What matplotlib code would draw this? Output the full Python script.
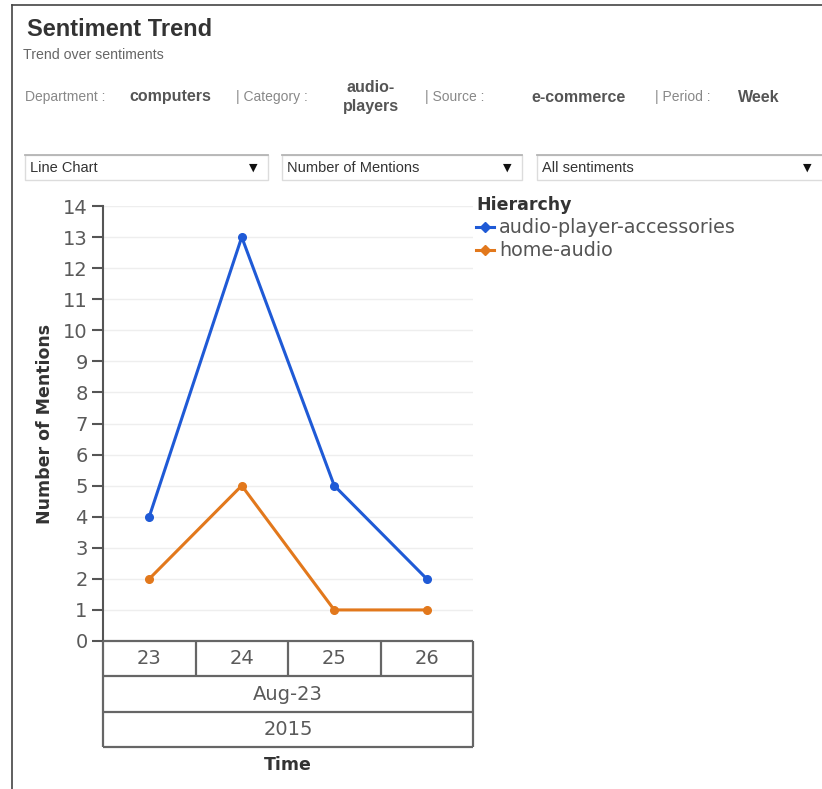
import matplotlib
matplotlib.use("Agg")
import matplotlib.pyplot as plt
from matplotlib.lines import Line2D
from matplotlib.patches import Rectangle

# ---- data ----
weeks = ["23", "24", "25", "26"]
month_label = "Aug-23"
year_label = "2015"
series_names = ["audio-player-accessories", "home-audio"]
accessories = [4, 13, 5, 2]
home_audio = [2, 5, 1, 1]
series_colors = ["#1f5ad6", "#e2781c"]
y_ticks = list(range(0, 15))

filters = [("Department :", "computers"), ("| Category :", "audio-\nplayers"),
           ("| Source :", "e-commerce"), ("| Period :", "Week")]
dropdowns = ["Line Chart", "Number of Mentions", "All sentiments"]

W, H = 822, 789
fig = plt.figure(figsize=(W / 100, H / 100), dpi=100)
fig.patch.set_facecolor("white")


def fx(px):
    return px / W


def fy(py):
    return 1 - py / H


SANS = ["Liberation Sans", "DejaVu Sans"]

# outer panel border
fig.add_artist(Line2D([fx(12), fx(12)], [fy(5), fy(789)], color="#444444", lw=1.2))
fig.add_artist(Line2D([fx(12), fx(822)], [fy(5), fy(5)], color="#444444", lw=1.2))

# header
fig.text(fx(27), fy(30), "Sentiment Trend", family=SANS, weight="bold",
         fontsize=17, color="#333333", va="center", ha="left")
fig.text(fx(23), fy(55), "Trend over sentiments", family=SANS,
         fontsize=10.2, color="#666666", va="center", ha="left")

label_x = [25, 236, 425, 655]
value_x = [129, 371, 531, 738]
for (lab, val), lx, vx in zip(filters, label_x, value_x):
    fig.text(fx(lx), fy(97), lab, family=SANS, fontsize=10, color="#888888",
             va="center", ha="left")
    ha = "center" if "\n" in val else "left"
    fig.text(fx(vx), fy(97), val, family=SANS, fontsize=11.5, weight="bold",
             color="#555555", va="center", ha=ha, linespacing=1.25)

# dropdown selectors
box_spans = [(25, 268), (282, 522), (537, 830)]
for text, (x0, x1) in zip(dropdowns, box_spans):
    fig.add_artist(Rectangle((fx(x0), fy(180)), fx(x1) - fx(x0), fy(155) - fy(180),
                             facecolor="white", edgecolor="#dcdcdc", lw=1))
    fig.add_artist(Line2D([fx(x0), fx(x1)], [fy(155), fy(155)], color="#b5b5b5", lw=1.3))
    fig.text(fx(x0 + 5), fy(167.5), text, family=SANS, fontsize=10.5,
             color="#333333", va="center", ha="left")
    fig.text(fx(min(x1, 822) - 15), fy(168), "\u25bc", family="DejaVu Sans",
             fontsize=8, color="#111111", va="center", ha="center")

# main plot
ax = fig.add_axes([fx(103), fy(641), fx(473) - fx(103), fy(206) - fy(641)])
x = list(range(len(weeks)))
lines = []
for vals, name, col in zip([accessories, home_audio], series_names, series_colors):
    ln, = ax.plot(x, vals, color=col, lw=2.2, marker="o", markersize=5.5,
                  label=name, clip_on=False, zorder=3)
    lines.append(ln)

ax.set_xlim(-0.5, len(weeks) - 0.5)
ax.set_ylim(0, 14)
ax.set_yticks(y_ticks)
ax.set_yticklabels([str(t) for t in y_ticks])
ax.set_xticks([])
ax.yaxis.grid(True, color="#eeeeee", lw=1)
ax.set_axisbelow(True)
for s in ["top", "right", "bottom"]:
    ax.spines[s].set_visible(False)
ax.spines["left"].set_color("#555555")
ax.spines["left"].set_linewidth(1.5)
ax.tick_params(axis="y", length=8, width=1.5, color="#555555", pad=3,
               labelsize=14, labelcolor="#5a5a5a")
for lab in ax.get_yticklabels():
    lab.set_family("DejaVu Sans")

fig.text(fx(45), fy(424), "Number of Mentions", family="DejaVu Sans",
         weight="bold", fontsize=12.5, color="#333333", rotation=90,
         va="center", ha="center")

# category table under the plot
tx = fig.add_axes([fx(103), fy(747), fx(473) - fx(103), fy(641) - fy(747)])
tx.set_xlim(-0.5, len(weeks) - 0.5)
tx.set_ylim(3, 0)
tx.axis("off")
tcol = "#666666"
tx.hlines([0, 1, 2, 3], -0.5, len(weeks) - 0.5, color=tcol, lw=1.6, clip_on=False)
tx.vlines([-0.5, len(weeks) - 0.5], 0, 3, color=tcol, lw=1.6, clip_on=False)
tx.vlines([i + 0.5 for i in range(len(weeks) - 1)], 0, 1, color=tcol, lw=1.6,
          clip_on=False)
for i, w in enumerate(weeks):
    tx.text(i, 0.5, w, ha="center", va="center", fontsize=14,
            color="#5a5a5a", family="DejaVu Sans")
mid = (len(weeks) - 1) / 2
tx.text(mid, 1.5, month_label, ha="center", va="center", fontsize=14,
        color="#5a5a5a", family="DejaVu Sans")
tx.text(mid, 2.5, year_label, ha="center", va="center", fontsize=14,
        color="#5a5a5a", family="DejaVu Sans")

fig.text(fx(288), fy(765), "Time", family="DejaVu Sans", weight="bold",
         fontsize=12.5, color="#333333", va="center", ha="center")

# legend
handles = [Line2D([0], [0], color=c, lw=2.2, marker="D", markersize=5.5)
           for c in series_colors]
leg = fig.legend(handles, series_names, loc="upper left",
                 bbox_to_anchor=(fx(476), fy(196)), frameon=False,
                 title="Hierarchy", alignment="left", handlelength=0.95,
                 handletextpad=0.25, borderpad=0, borderaxespad=0,
                 labelspacing=0.22, prop={"family": "DejaVu Sans", "size": 13.8},
                 title_fontproperties={"family": "DejaVu Sans", "weight": "bold",
                                       "size": 12.5})
leg.get_title().set_color("#333333")
for t in leg.get_texts():
    t.set_color("#555555")

fig.savefig("out.png", dpi=100, facecolor="white")
